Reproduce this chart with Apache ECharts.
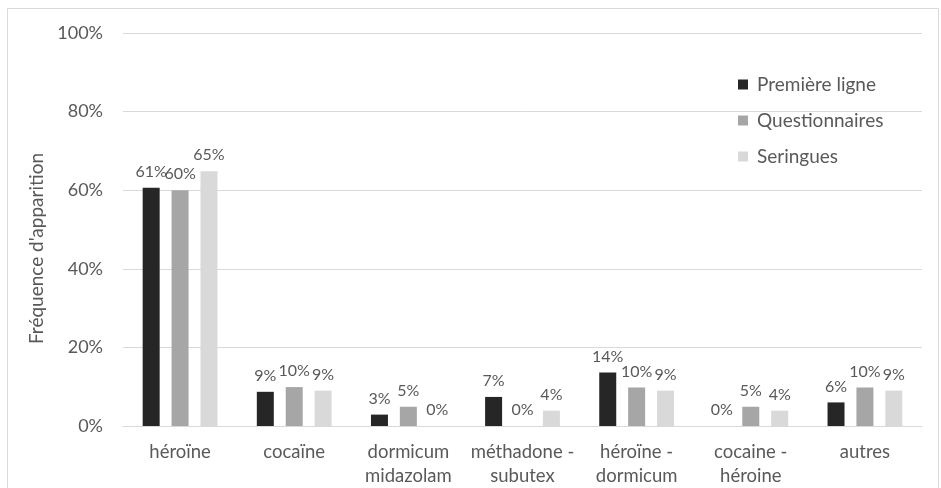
<!DOCTYPE html>
<html>
<head>
<meta charset="utf-8">
<script src="https://cdn.jsdelivr.net/npm/echarts@6/dist/echarts.min.js"></script>
<style>
  html, body { margin: 0; padding: 0; background: #fff; }
  #chart { width: 941px; height: 488px; }
</style>
</head>
<body>
<div id="chart"></div>
<script>
const categories = ['héroïne', 'cocaïne', 'dormicum\nmidazolam', 'méthadone -\nsubutex', 'héroïne -\ndormicum', 'cocaine -\nhéroine', 'autres'];
const seriesNames = ['Première ligne', 'Questionnaires', 'Seringues'];
const premiereLigne = [60.6, 8.7, 2.9, 7.4, 13.6, 0, 6.0];
const questionnaires = [60.0, 9.9, 4.9, 0, 9.8, 4.9, 9.8];
const seringues = [64.8, 9.0, 0, 3.9, 9.0, 3.9, 9.0];
const yTicks = [0, 20, 40, 60, 80, 100];
const colors = ['#262626', '#a6a6a6', '#d9d9d9'];

const font = 'Lato, "Open Sans", sans-serif';
const textColor = '#595959';

const chart = echarts.init(document.getElementById('chart'));

function makeSeries(name, data, color) {
  return {
    name: name,
    type: 'bar',
    data: data,
    barWidth: 17,
    barGap: '70%',
    itemStyle: { color: color },
    label: {
      show: true,
      position: 'top',
      distance: 8,
      color: textColor,
      fontFamily: font,
      fontSize: 16,
      formatter: (p) => Math.round(p.value) + '%'
    }
  };
}

chart.setOption({
  animation: false,
  textStyle: { fontFamily: font },
  graphic: [{
    type: 'rect',
    shape: { x: 7.5, y: 8.5, width: 931, height: 490 },
    style: { fill: 'none', stroke: '#d9d9d9', lineWidth: 1 },
    silent: true
  }],
  legend: {
    orient: 'vertical',
    left: 733,
    top: 70,
    itemWidth: 10,
    itemHeight: 10,
    itemGap: 17,
    icon: 'rect',
    data: seriesNames,
    textStyle: { color: textColor, fontSize: 19, fontFamily: font, padding: [0, 0, 0, 4] }
  },
  grid: { left: 123, right: 19, top: 33, bottom: 61, containLabel: false },
  xAxis: {
    type: 'category',
    data: categories,
    axisLine: { lineStyle: { color: '#d9d9d9', width: 1 } },
    axisTick: { show: false },
    axisLabel: {
      color: textColor,
      fontSize: 18.5,
      fontFamily: font,
      lineHeight: 24,
      margin: 14,
      interval: 0
    }
  },
  yAxis: {
    type: 'value',
    min: yTicks[0],
    max: yTicks[yTicks.length - 1],
    interval: 20,
    name: "Fréquence d'apparition",
    nameLocation: 'middle',
    nameGap: 77,
    nameTextStyle: { color: textColor, fontSize: 19, fontFamily: font, padding: [0, 38, 0, 0] },
    axisLine: { show: false },
    axisTick: { show: false },
    splitLine: { lineStyle: { color: '#d9d9d9', width: 1 } },
    axisLabel: {
      color: textColor,
      fontSize: 18,
      fontFamily: font,
      margin: 20,
      formatter: (v) => v + '%'
    }
  },
  series: [
    makeSeries(seriesNames[0], premiereLigne, colors[0]),
    makeSeries(seriesNames[1], questionnaires, colors[1]),
    makeSeries(seriesNames[2], seringues, colors[2])
  ]
});
</script>
</body>
</html>
